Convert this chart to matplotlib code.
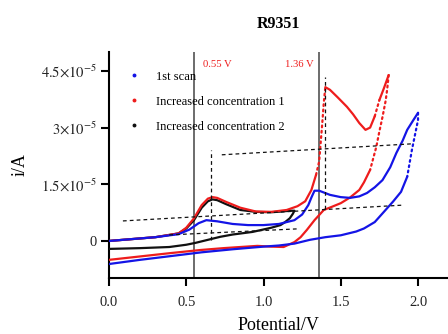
import matplotlib

matplotlib.use("Agg")
import matplotlib.pyplot as plt
import numpy as np
from matplotlib.lines import Line2D

SCALE = 1e-5  # currents below are in units of 1e-5 A

# 1st scan (blue): forward branch then return branch
blue_fwd_v = [0.0, 0.15, 0.3, 0.45, 0.52, 0.58, 0.63, 0.7, 0.8, 0.9, 1.0, 1.1, 1.2, 1.25,
              1.29, 1.31, 1.33, 1.36, 1.43, 1.5, 1.56, 1.62, 1.67, 1.72, 1.77, 1.82, 1.86,
              1.9, 1.93, 1.97, 2.0]
blue_fwd_i = [0.0, 0.05, 0.1, 0.18, 0.3, 0.47, 0.55, 0.52, 0.45, 0.42, 0.42, 0.45, 0.55, 0.7,
              0.95, 1.15, 1.33, 1.33, 1.22, 1.16, 1.14, 1.18, 1.27, 1.42, 1.61, 1.95, 2.33,
              2.65, 2.94, 3.2, 3.39]
blue_rev_v = [2.0, 1.98, 1.96, 1.93, 1.89, 1.84, 1.79, 1.72, 1.65, 1.6, 1.5, 1.4, 1.3, 1.2,
              1.1, 1.0, 0.8, 0.6, 0.4, 0.2, 0.0]
blue_rev_i = [3.2, 2.8, 2.4, 1.7, 1.3, 1.05, 0.82, 0.5, 0.33, 0.25, 0.15, 0.1, 0.03, -0.07,
              -0.12, -0.15, -0.22, -0.3, -0.4, -0.5, -0.61]

# Increased concentration 1 (red)
red_fwd_v = [0.0, 0.15, 0.3, 0.45, 0.5, 0.55, 0.6, 0.64, 0.67, 0.7, 0.76, 0.85, 0.95, 1.05,
             1.15, 1.22, 1.27, 1.31, 1.34, 1.36, 1.37, 1.38, 1.39, 1.40, 1.43, 1.48, 1.54,
             1.58, 1.62, 1.66, 1.69, 1.72, 1.75, 1.78, 1.81]
red_fwd_i = [0.0, 0.05, 0.1, 0.2, 0.35, 0.6, 0.95, 1.12, 1.16, 1.14, 1.03, 0.88, 0.78, 0.77,
             0.82, 0.92, 1.05, 1.35, 1.75, 2.1, 2.6, 3.1, 3.65, 4.07, 4.0, 3.8, 3.55,
             3.35, 3.12, 2.94, 3.0, 3.3, 3.73, 4.05, 4.39]
red_rev_v = [1.81, 1.80, 1.79, 1.77, 1.75, 1.73, 1.69, 1.65, 1.62, 1.56, 1.50, 1.44, 1.39,
             1.33, 1.28, 1.24, 1.20, 1.13, 1.05, 0.96, 0.85, 0.74, 0.59, 0.4, 0.2, 0.0]
red_rev_i = [4.39, 4.0, 3.7, 3.28, 2.9, 2.49, 1.88, 1.55, 1.35, 1.15, 1.0, 0.9, 0.82,
             0.55, 0.29, 0.1, -0.03, -0.16, -0.15, -0.13, -0.16, -0.19, -0.24, -0.32, -0.41, -0.5]

# Increased concentration 2 (black)
black_fwd_v = [0.0, 0.15, 0.3, 0.45, 0.5, 0.55, 0.6, 0.64, 0.67, 0.7, 0.76, 0.85, 0.95,
               1.05, 1.12, 1.17, 1.2]
black_fwd_i = [0.0, 0.05, 0.1, 0.2, 0.33, 0.55, 0.88, 1.05, 1.1, 1.08, 0.97, 0.82, 0.77,
               0.76, 0.78, 0.8, 0.8]
black_rev_v = [1.2, 1.19, 1.17, 1.14, 1.11, 1.05, 0.93, 0.8, 0.72, 0.64, 0.56, 0.5, 0.39,
               0.2, 0.0]
black_rev_i = [0.8, 0.72, 0.6, 0.5, 0.42, 0.35, 0.24, 0.17, 0.11, 0.03, -0.05, -0.1, -0.16,
               -0.19, -0.21]

# baseline construction lines: (v0, i0, v1, i1)
baselines = [
    (0.09, 0.53, 1.91, 0.95),
    (0.73, 2.28, 1.96, 2.57),
    (0.39, 0.16, 1.22, 0.32),
]
peak_drops = [(0.66, 0.03, 2.4), (1.40, 0.85, 4.34)]  # (v, i_low, i_high)
marker_potentials = [0.55, 1.36]
marker_labels = ["0.55 V", "1.36 V"]

series_labels = ["1st scan", "Increased concentration 1", "Increased concentration 2"]
series_colors = ["#1414e6", "#ee1c1c", "#111111"]

XLIM = (0, 2.194)
YLIM = (-0.98, 5.0)


def plot_scan(ax, v, i, color):
    # solid where the trace is flat-ish, dotted where it is nearly vertical
    v = np.asarray(v)
    i = np.asarray(i)
    px_per_v = 339 / (XLIM[1] - XLIM[0])
    px_per_i = 226 / (YLIM[1] - YLIM[0])
    steep = np.abs(np.diff(i) * px_per_i) > 3.5 * np.abs(np.diff(v) * px_per_v)
    start = 0
    for k in range(1, len(steep) + 1):
        if k == len(steep) or steep[k] != steep[start]:
            seg = slice(start, k + 1)
            if steep[start]:
                ax.plot(v[seg], i[seg] * SCALE, color=color, lw=1.6,
                        linestyle=(0, (0.8, 1.6)), dash_capstyle="round", zorder=3)
            else:
                ax.plot(v[seg], i[seg] * SCALE, color=color, lw=1.6,
                        solid_capstyle="round", zorder=3)
            start = k


plt.rcParams["font.family"] = ["Liberation Serif", "DejaVu Serif"]
plt.rcParams["mathtext.fontset"] = "stix"

fig = plt.figure(figsize=(4.48, 3.34), dpi=100)
ax = fig.add_axes([109 / 448, 1 - 278 / 334, 339 / 448, 226 / 334])

for mv in marker_potentials:
    ax.axvline(mv, color="#444444", lw=1.1, zorder=2)
for v0, i0, v1, i1 in baselines:
    ax.plot([v0, v1], [i0 * SCALE, i1 * SCALE], color="#111111", lw=0.9,
            linestyle=(0, (3, 2.5)), zorder=4)
for v, lo, hi in peak_drops:
    ax.plot([v, v], [lo * SCALE, hi * SCALE], color="#111111", lw=0.9,
            linestyle=(0, (3, 2.5)), zorder=4)

plot_scan(ax, black_fwd_v + black_rev_v, black_fwd_i + black_rev_i, series_colors[2])
plot_scan(ax, red_fwd_v + red_rev_v, red_fwd_i + red_rev_i, series_colors[1])
plot_scan(ax, blue_fwd_v + blue_rev_v, blue_fwd_i + blue_rev_i, series_colors[0])

ax.text(0.61, 4.68 * SCALE, marker_labels[0], color="#ee1c1c", fontsize=7.7,
        ha="left", va="center")
ax.text(1.325, 4.66 * SCALE, marker_labels[1], color="#ee1c1c", fontsize=7.7,
        ha="right", va="center")

handles = [Line2D([], [], ls="none", marker="o", ms=1.8, color=c) for c in series_colors]
ax.legend(handles, series_labels, loc="upper left", bbox_to_anchor=(0.04, 0.94),
          frameon=False, fontsize=9, handlelength=1.0, handletextpad=1.3,
          labelspacing=1.05, borderaxespad=0)

ax.set_xlim(*XLIM)
ax.set_ylim(YLIM[0] * SCALE, YLIM[1] * SCALE)
ax.set_xticks([0.0, 0.5, 1.0, 1.5, 2.0])
ax.set_xticklabels(["0.0", "0.5", "1.0", "1.5", "2.0"])
ax.set_yticks([0, 1.5e-5, 3e-5, 4.5e-5])
ax.set_yticklabels(["0", r"$1.5{\times}10^{-5}$", r"$3{\times}10^{-5}$",
                    r"$4.5{\times}10^{-5}$"])

ax.spines["top"].set_visible(False)
ax.spines["right"].set_visible(False)
for side in ("left", "bottom"):
    ax.spines[side].set_linewidth(1.5)
ax.tick_params(axis="both", length=5.8, width=1.5, labelsize=10.5,
               labelcolor="#222222", pad=3)
ax.tick_params(axis="x", pad=7)

ax.set_xlabel("Potential/V", fontsize=13, labelpad=6)
ax.set_ylabel("i/A", fontsize=13, labelpad=9)
ax.set_title("R9351", fontsize=11.5, fontweight="bold", pad=17)

fig.savefig("out.png", dpi=100)
